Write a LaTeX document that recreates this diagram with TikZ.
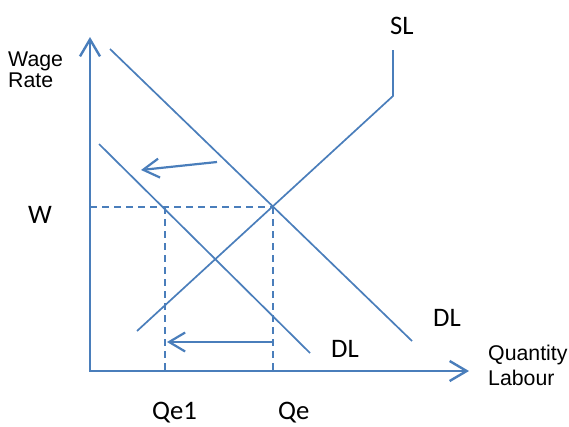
\documentclass[tikz,border=0pt]{standalone}
\usepackage{fontspec}
\setmainfont{Carlito}
\newfontfamily\arialf{Liberation Sans}
\usetikzlibrary{arrows.meta}
\definecolor{lineblue}{RGB}{74,126,187}
\tikzset{
  axisline/.style={draw=lineblue, line width=2.4pt, -{Straight Barb[length=17pt,width=20pt,line width=2.4pt]}},
  curveline/.style={draw=lineblue, line width=1.7pt},
  guideline/.style={draw=lineblue, line width=1.7pt, dash pattern=on 7pt off 5pt},
  shiftarrow/.style={draw=lineblue, line width=2.2pt, -{Straight Barb[length=16pt,width=19pt,line width=2.2pt]}},
  biglabel/.style={inner sep=0pt, anchor=base west, font=\fontsize{26.7}{30}\selectfont},
  smalllabel/.style={inner sep=0pt, anchor=base west, font=\arialf\fontsize{21.3}{24}\selectfont}
}
\begin{document}
\begin{tikzpicture}[x=1pt,y=-1pt]
\useasboundingbox (0,0) rectangle (569,426);
% coordinates
\coordinate (O) at (90,371);
\coordinate (ytop) at (90,37);
\coordinate (xend) at (469,371);
\coordinate (d1a) at (110,49);
\coordinate (d1b) at (412,341);
\coordinate (d2a) at (99,144);
\coordinate (d2b) at (310,353);
\coordinate (sla) at (137,331);
\coordinate (slb) at (393,96);
\coordinate (slc) at (393,50);
\coordinate (E) at (273,207);
\coordinate (E1) at (165,207);
\coordinate (Wy) at (90,207);
\coordinate (Eb) at (273,371);
\coordinate (E1b) at (165,371);
\coordinate (a1s) at (217,162);
\coordinate (a1e) at (141,170);
\coordinate (a2s) at (273,342);
\coordinate (a2e) at (167,342);
% guides
\draw[guideline] (Wy) -- (E);
\draw[guideline] (E) -- (Eb);
\draw[guideline] (E1) -- (E1b);
% curves
\draw[curveline] (d1a) -- (d1b);
\draw[curveline] (d2a) -- (d2b);
\draw[curveline] (sla) -- (slb) -- (slc);
% shift arrows
\draw[shiftarrow] (a1s) -- (a1e);
\draw[shiftarrow] (a2s) -- (a2e);
% axes
\draw[axisline] ([yshift=1pt]O) -- (ytop);
\draw[axisline] ([xshift=-1.2pt]O) -- (xend);
% labels
\node[smalllabel] (wage) at (8,66) {Wage};
\node[smalllabel] (rate) at (8,87) {Rate};
\node[smalllabel] (qty) at (488,360) {Quantity};
\node[smalllabel] (lab) at (488,385) {Labour};
\node[biglabel] (sl) at (390,34) {SL};
\node[biglabel] (dl1) at (433,326) {DL};
\node[biglabel] (dl2) at (331,357) {DL};
\node[biglabel] (w) at (28,223) {W};
\node[biglabel] (qe1) at (152,419) {Qe1};
\node[biglabel] (qe) at (278,419) {Qe};
\end{tikzpicture}
\end{document}
